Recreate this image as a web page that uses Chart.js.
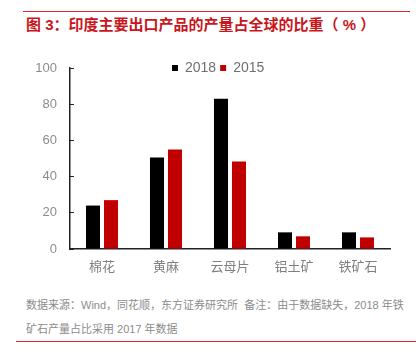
<!DOCTYPE html>
<html>
<head>
<meta charset="utf-8">
<script src="https://cdn.jsdelivr.net/npm/chart.js"></script>
<style>
  html, body { margin: 0; padding: 0; background: #fff; }
  body { width: 416px; height: 362px; position: relative; overflow: hidden;
    font-family: "Liberation Sans", "Noto Sans CJK SC", sans-serif; }
  .topline { position: absolute; left: 23px; top: 11px; width: 387px; height: 1px; background: #d9262b; }
  .title { position: absolute; left: 26px; top: 15px; font-size: 15px; font-weight: bold; color: #c8161d;
    white-space: nowrap; line-height: 20px; }
  .chart-wrap { position: absolute; left: 0; top: 40px; width: 416px; height: 250px; }
  .note { position: absolute; left: 26px; top: 293px; width: 390px; font-size: 11px; color: #8c8c8c;
    line-height: 24px; }
  .bottomline { position: absolute; left: 16px; top: 341px; width: 400px; height: 1px; background: #d9262b; }
</style>
</head>
<body>
<div class="topline"></div>
<div class="title">图 3：印度主要出口产品的产量占全球的比重（ % ）</div>
<div class="chart-wrap"><canvas id="c" width="416" height="250"></canvas></div>
<div class="note">数据来源：Wind，同花顺，东方证券研究所&nbsp; 备注：由于数据缺失，2018 年铁<br>矿石产量占比采用 2017 年数据</div>
<div class="bottomline"></div>
<script>
const categories = ['棉花', '黄麻', '云母片', '铝土矿', '铁矿石'];
const values2018 = [24, 50.5, 83, 9.2, 9.2];
const values2015 = [27, 55, 48.4, 7, 6.4];
const yTicks = [0, 20, 40, 60, 80, 100];

const FONT = '"Liberation Sans", "Noto Sans CJK SC", sans-serif';

// the legend sits inside the plot in the reference, so move it down after layout
const legendPlace = {
  id: 'legendPlace',
  afterLayout(chart) {
    const lg = chart.legend;
    if (!lg) return;
    const pad = lg.options.labels.padding;
    const w = lg.right - lg.left, h = lg.bottom - lg.top;
    lg.left = 172 - pad;
    lg.right = lg.left + w;
    lg.top = 21 - pad;
    lg.bottom = lg.top + h;
  }
};

new Chart(document.getElementById('c').getContext('2d'), {
  type: 'bar',
  data: {
    labels: categories,
    datasets: [
      { label: '2018', data: values2018, backgroundColor: '#000000', borderWidth: 0 },
      { label: '2015', data: values2015, backgroundColor: '#c00000', borderWidth: 0 }
    ]
  },
  options: {
    responsive: false,
    animation: false,
    devicePixelRatio: 1,
    categoryPercentage: 0.5625,
    barPercentage: 0.78,
    layout: { padding: { left: 0, right: 26, top: 0, bottom: 0 } },
    plugins: {
      tooltip: { enabled: false },
      legend: {
        position: 'top',
        align: 'start',
        labels: {
          boxWidth: 6, boxHeight: 6, padding: 4,
          color: '#6f6f6f',
          font: { family: FONT, size: 14 }
        }
      }
    },
    scales: {
      x: {
        afterFit(s) { s.height = 41; },
        grid: { display: true, drawOnChartArea: false, drawTicks: false },
        border: { color: '#222', width: 1.5 },
        ticks: { color: '#7f7f7f', padding: 11, font: { family: FONT, size: 13 } }
      },
      y: {
        min: 0, max: 100,
        afterFit(s) { s.width = 70; },
        afterBuildTicks(s) { s.ticks = yTicks.map(v => ({ value: v })); },
        grid: { display: true, drawOnChartArea: false, drawTicks: true, tickLength: -4, color: '#222' },
        border: { color: '#222', width: 1.5 },
        ticks: { color: '#8c8c8c', padding: 17, font: { family: FONT, size: 13 } }
      }
    }
  },
  plugins: [legendPlace]
});
</script>
</body>
</html>
